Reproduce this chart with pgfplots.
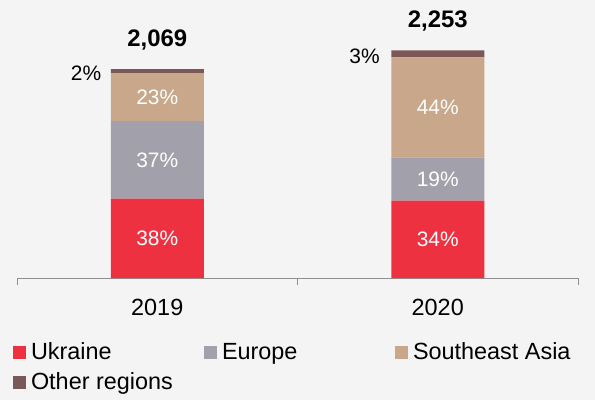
\documentclass[border=0pt]{standalone}
\usepackage{pgfplots}
\pgfplotsset{compat=1.18}
\usepackage{fontspec}
\setmainfont{Liberation Sans}
\definecolor{bg}{HTML}{F4F4F4}
\definecolor{ukr}{HTML}{EE3140}
\definecolor{eur}{HTML}{A2A1AB}
\definecolor{sea}{HTML}{C9A78A}
\definecolor{oth}{HTML}{7B5757}
\definecolor{axgray}{HTML}{8F8F8F}
\begin{document}
\begin{tikzpicture}
\fill[bg, use as bounding box] (0,0) rectangle (595bp,400bp);
\begin{axis}[
  clip=false,
  at={(17bp,122bp)}, anchor=south west,
  scale only axis, width=561bp, height=262.6bp,
  xmin=-0.5, xmax=1.5, ymin=0, ymax=2600,
  axis y line=none, axis x line*=bottom,
  x axis line style={axgray, line width=1pt},
  ybar stacked, bar width=93bp,
  xtick={0,1}, xticklabels={2019,2020},
  major tick length=0pt,
  tick style={axgray, line width=1pt},
  extra x ticks={-0.5,0.5,1.5}, extra x tick labels={},
  extra x tick style={major tick length=7bp, tick align=outside},
  xticklabel style={font=\fontsize{23.5}{28}\selectfont, anchor=base, yshift=-37bp},
  legend columns=3,
  legend cell align=left,
  legend style={draw=none, fill=none, at={(axis description cs:-0.0071,-0.25)}, anchor=north west,
    inner sep=0pt, outer sep=0pt, row sep=9bp, column sep=0pt,
    nodes={inner sep=0pt, text height=16bp, text depth=5bp, font=\fontsize{23.5}{28}\selectfont}},
  legend image code/.code={\fill[#1] (0bp,-4.5bp) rectangle (13bp,8.5bp); \path (18bp,0bp);},
]
\addplot[fill=ukr, draw=none] coordinates {(0,786) (1,766)};
\addlegendentry{\makebox[173bp][l]{Ukraine}}
\addplot[fill=eur, draw=none] coordinates {(0,766) (1,428)};
\addlegendentry{\makebox[173bp][l]{Europe}}
\addplot[fill=sea, draw=none] coordinates {(0,476) (1,991)};
\addlegendentry{\makebox[173bp][l]{Southeast Asia}}
\addplot[fill=oth, draw=none] coordinates {(0,41) (1,68)};
\addlegendentry{\makebox[173bp][l]{Other regions}}

\coordinate (a1) at (axis cs:0,393);
\coordinate (a2) at (axis cs:0,1169);
\coordinate (a3) at (axis cs:0,1790);
\coordinate (b1) at (axis cs:1,383);
\coordinate (b2) at (axis cs:1,980);
\coordinate (b3) at (axis cs:1,1689.5);
\coordinate (at) at (axis cs:0,2069);
\coordinate (bt) at (axis cs:1,2253);
\coordinate (al) at (axis cs:-0.1661,2069);
\coordinate (bl) at (axis cs:0.8339,2253);
\end{axis}
\begin{scope}[every node/.style={font=\fontsize{21}{25}\selectfont}]
\node[white] at (a1) {38\%};
\node[white] at (a2) {37\%};
\node[white] at (a3) {23\%};
\node[white] at (b1) {34\%};
\node[white] at (b2) {19\%};
\node[white] at (b3) {44\%};
\node[anchor=base east, xshift=-6bp, yshift=-11bp] at (al) {2\%};
\node[anchor=base east, xshift=-8bp, yshift=-13bp] at (bl) {3\%};
\end{scope}
\node[font=\bfseries\fontsize{24}{28}\selectfont, anchor=base, yshift=23bp] at (at) {2,069};
\node[font=\bfseries\fontsize{24}{28}\selectfont, anchor=base, yshift=23bp] at (bt) {2,253};
\end{tikzpicture}
\end{document}
